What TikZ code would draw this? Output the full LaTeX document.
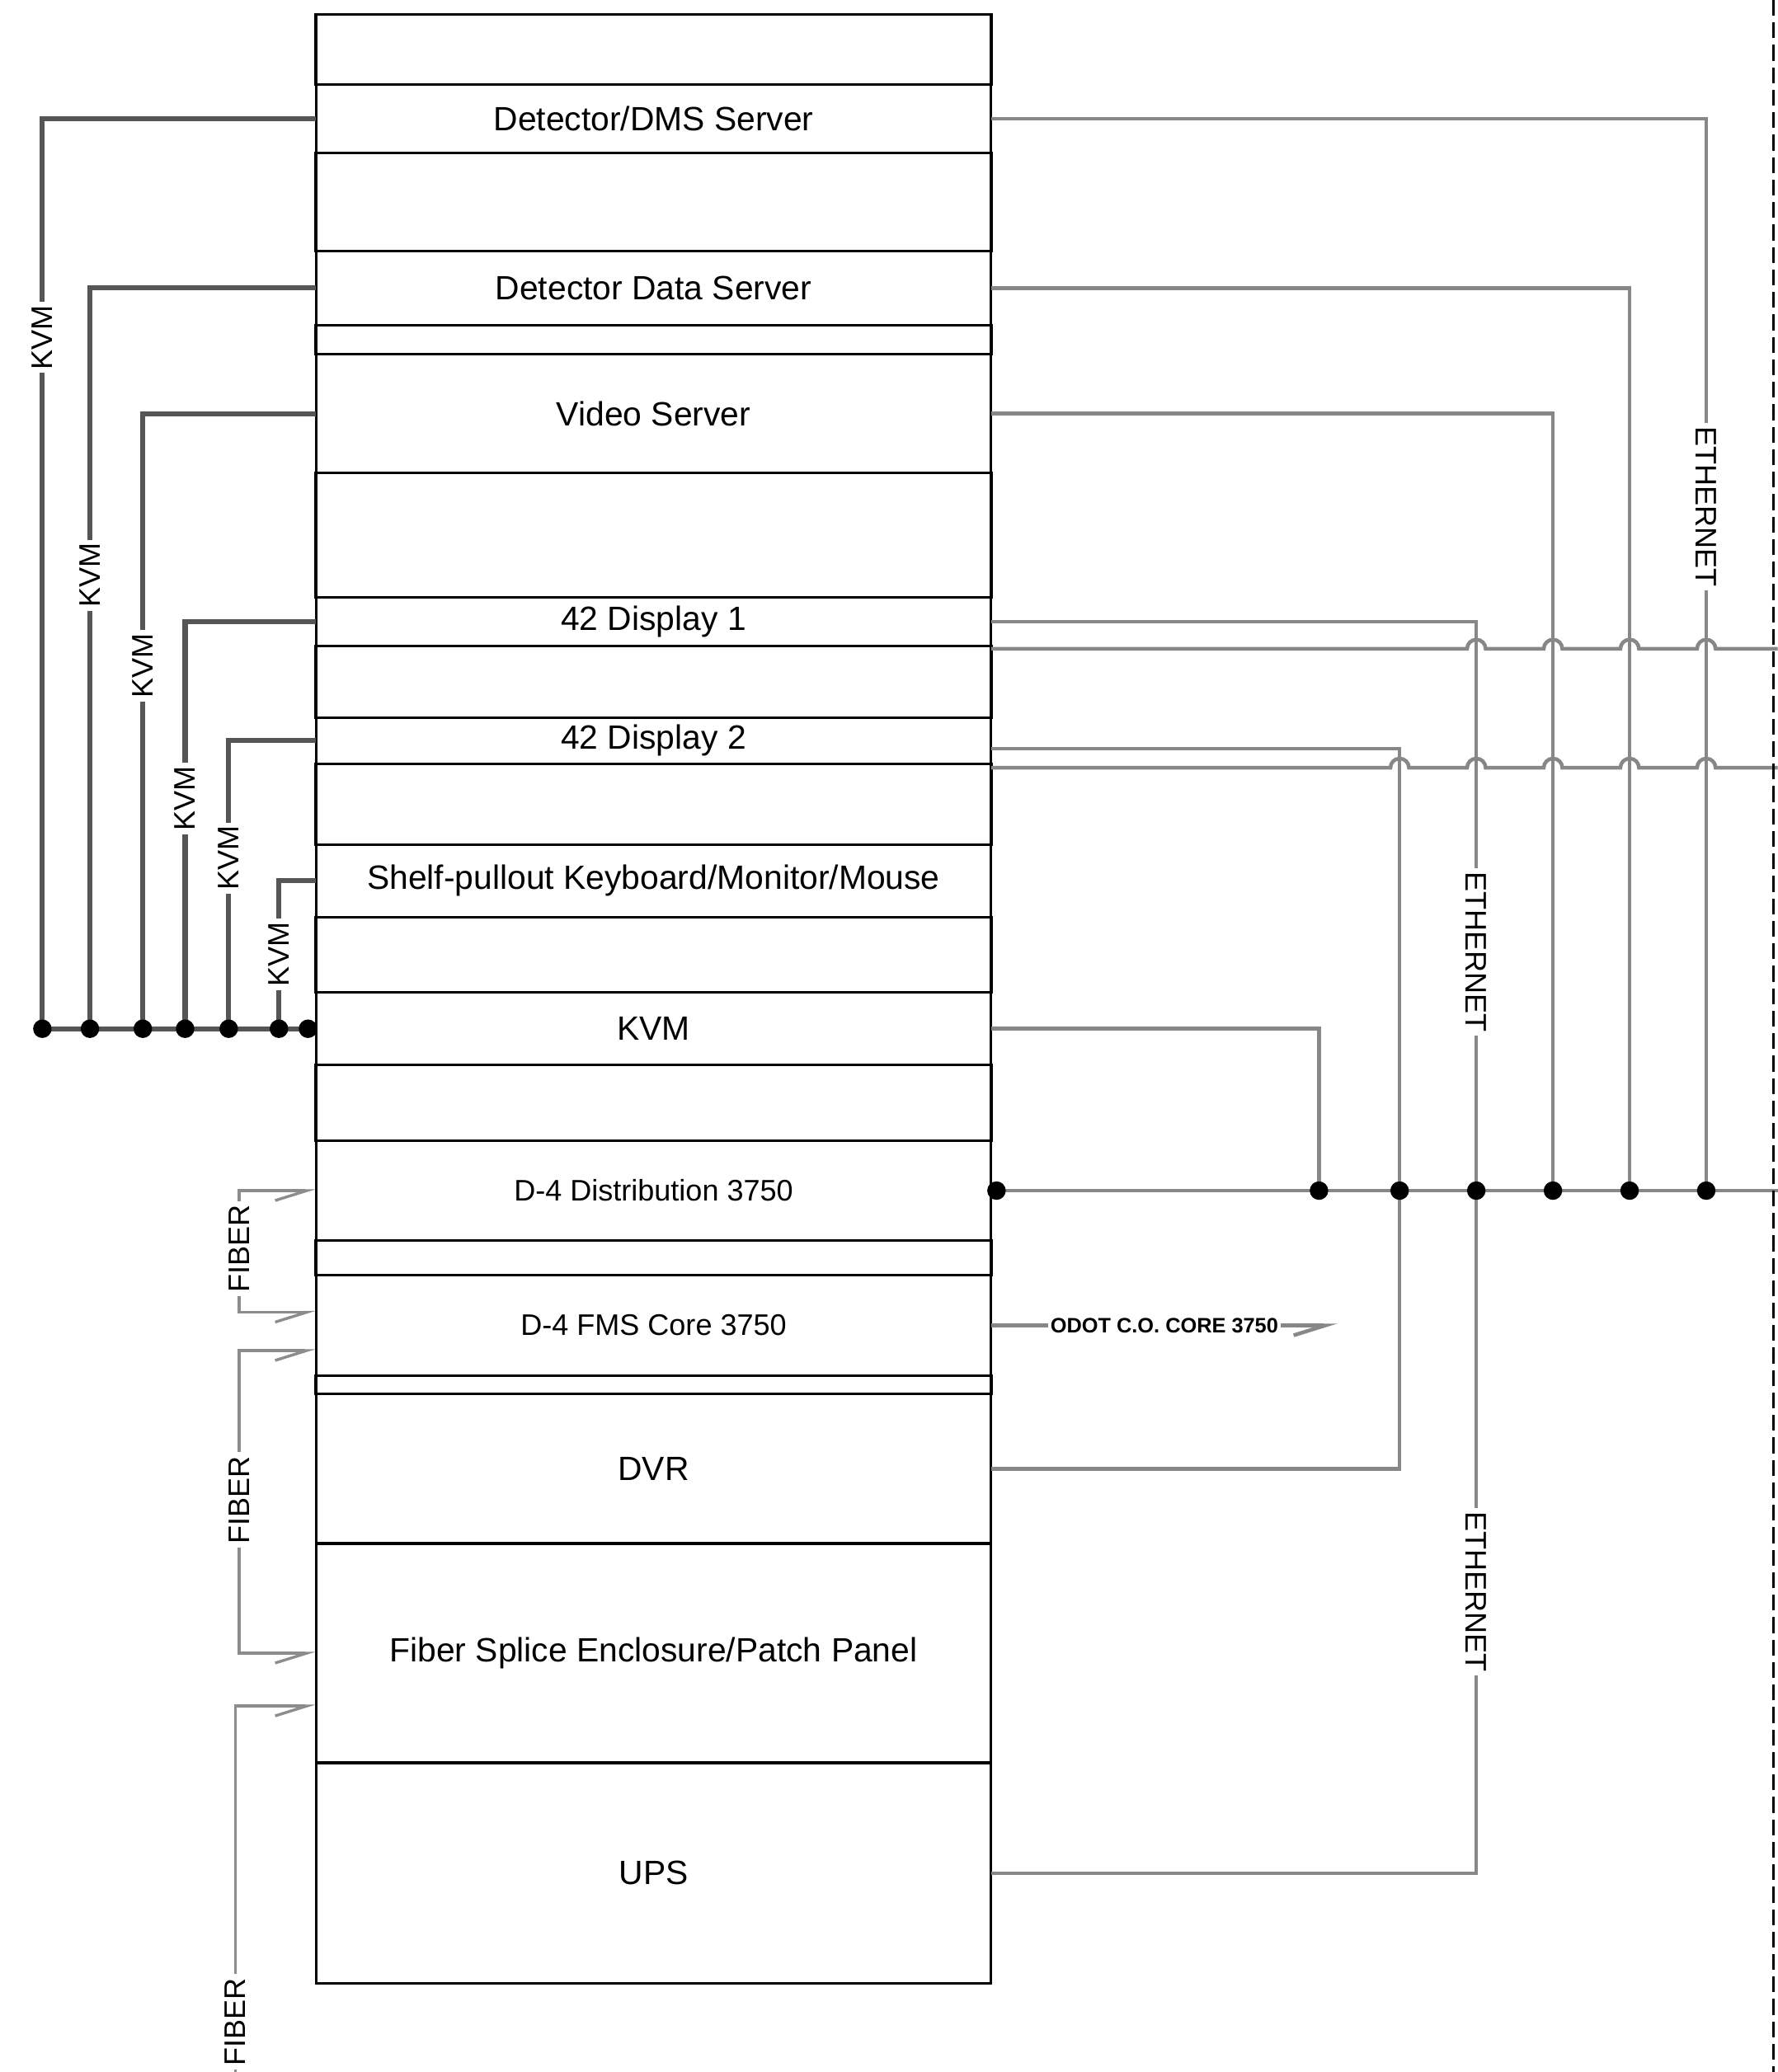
\documentclass[tikz,border=0pt]{standalone}
\usepackage{fontspec}
\setmainfont{Liberation Sans}
\usepackage{tikz}
\usetikzlibrary{calc,arrows.meta,positioning}
\definecolor{cKvm}{RGB}{85,85,85}
\definecolor{cEth}{RGB}{135,135,135}
\definecolor{cFib}{RGB}{140,140,140}

\begin{document}
\begin{tikzpicture}[x=0.02cm,y=-0.02cm,
  rackline/.style={line width=1.1pt},
  rackrow/.style={draw,rackline,minimum width=10.22cm,inner sep=0pt,outer sep=0pt,font=\fontsize{14.5}{17}\selectfont},
  smallrow/.style={rackrow,font=\fontsize{12.8}{15}\selectfont},
  kvmwire/.style={cKvm,line width=2.2pt},
  ethwire/.style={cEth,line width=1.6pt},
  fibwire/.style={cFib,line width=1.2pt},
  wirelabel/.style={fill=white,text=black,inner sep=1.5pt,font=\fontsize{12.8}{15}\selectfont},
  barb/.style={-{Straight Barb[right,length=0.48cm,width=0.3cm]}},
  junction/.style={fill=black}]
  \useasboundingbox (0,0) rectangle (1345,1568);

  % rack: empty slots
  \foreach \t/\b in {11/64,116/190,246/268,358/452,489/543,578/639,694/751,806/863,939/965,1041/1055}
    \draw[rackline] (239,\t) rectangle (750,\b);
  % rack: equipment
  \node[rackrow,minimum height=1.04cm] (dms) at (494.5,90) {Detector/DMS Server};
  \node[rackrow,minimum height=1.12cm] (data) at (494.5,218) {Detector Data Server};
  \node[rackrow,minimum height=1.80cm] (video) at (494.5,313) {Video Server};
  \node[rackrow,minimum height=0.74cm] (disp1) at (494.5,470.5) {42 Display 1};
  \node[rackrow,minimum height=0.70cm] (disp2) at (494.5,560.5) {42 Display 2};
  \node[rackrow,minimum height=1.10cm] (shelf) at (494.5,666.5) {Shelf-pullout Keyboard/Monitor/Mouse};
  \node[rackrow,minimum height=1.10cm] (kvm) at (494.5,778.5) {KVM};
  \node[smallrow,minimum height=1.52cm] (dist) at (494.5,901) {D-4 Distribution 3750};
  \node[smallrow,minimum height=1.52cm] (fms) at (494.5,1003) {D-4 FMS Core 3750};
  \node[rackrow,minimum height=2.26cm] (dvr) at (494.5,1111.5) {DVR};
  \node[rackrow,minimum height=3.32cm] (splice) at (494.5,1251) {Fiber Splice Enclosure/Patch Panel};
  \node[rackrow,minimum height=3.34cm] (ups) at (494.5,1417.5) {UPS};

  % KVM bus on the left
  \foreach \n/\dx in {1/207,2/171,3/131,4/99,5/66,6/28,7/6}
    \coordinate (kb\n) at ($(kvm.west)+(-\dx,0)$);
  \draw[kvmwire] (kb1) -- (kvm.west);
  \draw[kvmwire] (dms.west) -| (kb1) node[wirelabel,rotate=90,pos=0.62] (kvml1) {KVM};
  \draw[kvmwire] (data.west) -| (kb2) node[wirelabel,rotate=90,pos=0.694] (kvml2) {KVM};
  \draw[kvmwire] (video.west) -| (kb3) node[wirelabel,rotate=90,pos=0.705] (kvml3) {KVM};
  \draw[kvmwire] (disp1.west) -| (kb4) node[wirelabel,rotate=90,pos=0.717] (kvml4) {KVM};
  \draw[kvmwire] (disp2.west) -| (kb5) node[wirelabel,rotate=90,pos=0.704] (kvml5) {KVM};
  \draw[kvmwire] (shelf.west) -| (kb6) node[wirelabel,rotate=90,pos=0.748] (kvml6) {KVM};
  \foreach \n in {1,...,7}
    \fill[junction] (kb\n) circle (7);

  % ethernet bus on the right
  \foreach \n/\dx in {1/248,2/309,3/367,4/425,5/483,6/541}
    \coordinate (eb\n) at ($(dist.east)+(\dx,0)$);
  \coordinate (ethend) at ($(dist.east)+(595,0)$);
  \draw[ethwire] (dist.east) -- (ethend);
  \draw[ethwire] (dms.east) -| (eb6) node[wirelabel,rotate=-90,pos=0.681] (ethl1) {ETHERNET};
  \draw[ethwire] (data.east) -| (eb5);
  \draw[ethwire] (video.east) -| (eb4);
  \draw[ethwire] (disp1.east) -| (eb3) node[wirelabel,rotate=-90,pos=0.79] (ethl2) {ETHERNET};
  \draw[ethwire] (ups.east) -| (eb3) node[wirelabel,rotate=-90,pos=0.706] (ethl3) {ETHERNET};
  \draw[ethwire] ($(disp2.east)+(0,6)$) -| (eb2);
  \draw[ethwire] (dvr.east) -| (eb2);
  \draw[ethwire] (kvm.east) -| (eb1);
  \fill[junction] ($(dist.east)+(4,0)$) circle (7);
  \foreach \n in {1,...,6}
    \fill[junction] (eb\n) circle (7);

  % display lines leaving the page, hopping over the risers
  \coordinate (hop1end) at (1345,491);
  \coordinate (hop2end) at (1345,581);
  \draw[ethwire] ($(disp1.south east)+(0,2)$)
    foreach \x in {1117,1175,1233,1291} { -- (\x-7,491) arc (180:360:7) } -- (hop1end);
  \draw[ethwire] ($(disp2.south east)+(0,3)$)
    foreach \x in {1059,1117,1175,1233,1291} { -- (\x-7,581) arc (180:360:7) } -- (hop2end);

  % uplink
  \coordinate (odotend) at ($(fms.east)+(262,0)$);
  \draw[ethwire,barb] (fms.east) -- (odotend)
    node[midway,fill=white,text=black,inner sep=1pt,font=\bfseries\fontsize{9}{11}\selectfont] (odotl) {ODOT C.O. CORE 3750};

  % fiber patching
  \node[wirelabel,rotate=90] (fibl1) at (181,945) {FIBER};
  \draw[fibwire,barb] (fibl1.east) |- (dist.west);
  \draw[fibwire,barb] (fibl1.west) |- ($(fms.west)+(0,-10)$);
  \node[wirelabel,rotate=90] (fibl2) at (181,1135) {FIBER};
  \draw[fibwire,barb] (fibl2.east) |- ($(fms.west)+(0,19)$);
  \draw[fibwire,barb] (fibl2.west) |- (splice.west);
  \node[wirelabel,rotate=90] (fibl3) at (178,1530) {FIBER};
  \coordinate (fibend) at (178,1568);
  \draw[fibwire,barb] (fibl3.east) |- ($(splice.west)+(0,40)$);
  \draw[fibwire] (fibl3.west) -- (fibend);

  % cabinet boundary
  \draw[line width=1pt,dash pattern=on 0.24cm off 0.1cm] (1342,0) -- (1342,1568);
\end{tikzpicture}
\end{document}
